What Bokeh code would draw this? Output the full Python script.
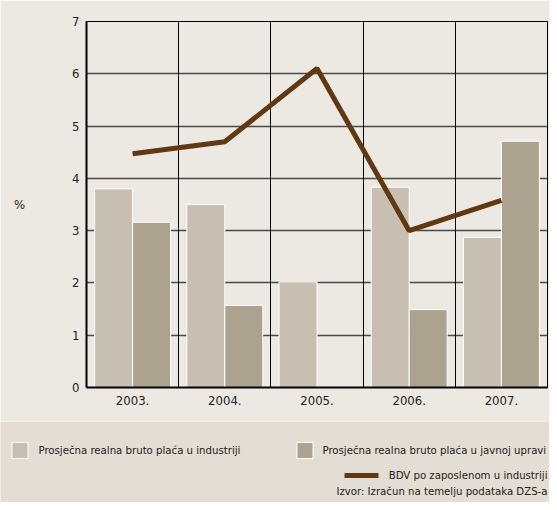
from bokeh.plotting import figure
from bokeh.layouts import column
from bokeh.models import Range1d, FixedTicker, Grid
from bokeh.core.properties import value
from bokeh.embed import file_html
from bokeh.resources import INLINE

# ---- data ----
years = ["2003.", "2004.", "2005.", "2006.", "2007."]
placa_industrija = [3.80, 3.50, 2.02, 3.83, 2.87]
placa_uprava = [3.16, 1.57, 0.0, 1.49, 4.71]
bdv_industrija = [4.47, 4.70, 6.10, 3.00, 3.58]
y_ticks = [0, 1, 2, 3, 4, 5, 6, 7]

series_names = [
    "Prosječna realna bruto plaća u industriji",
    "Prosječna realna bruto plaća u javnoj upravi",
    "BDV po zaposlenom u industriji",
]
source_note = "Izvor: Izračun na temelju podataka DZS-a"

# ---- styles ----
BG = "#ece8e2"
BAND = "#e3ddd4"
LIGHT = "#c8bfb3"
DARK = "#aca290"
LINE = "#603913"
TXT = "#222222"
FONT = "'DejaVu Sans Condensed', sans-serif"
FS_AX = "13px"
FS_LEG = "11.3px"

W = 549
xs = list(range(len(years)))
bw = 0.412

p = figure(width=W, height=421, output_backend="svg", toolbar_location=None,
           x_range=Range1d(-0.5, len(years) - 0.5), y_range=Range1d(0, 7),
           min_border_left=86, min_border_right=2, min_border_top=21, min_border_bottom=34)
p.frame_align = False
p.background_fill_color = BG
p.border_fill_color = BG
p.outline_line_color = "black"
p.outline_line_width = 1

# grids
p.xgrid.visible = False
p.ygrid.ticker = FixedTicker(ticks=y_ticks)
p.ygrid.grid_line_color = "#4a4a4a"
p.ygrid.grid_line_width = 1.5
vgrid = Grid(dimension=0, ticker=FixedTicker(ticks=[i + 0.5 for i in xs[:-1]]),
             grid_line_color="black", grid_line_width=1)
p.add_layout(vgrid)

# bars
p.vbar(x=[i - bw / 2 for i in xs], top=placa_industrija, width=bw,
       fill_color=LIGHT, line_color="white", line_width=1)
p.vbar(x=[i + bw / 2 for i in xs], top=placa_uprava, width=bw,
       fill_color=DARK, line_color="white", line_width=1)
# line
p.line(x=xs, y=bdv_industrija, line_color=LINE, line_width=5)

# axes
p.xaxis.ticker = FixedTicker(ticks=xs)
p.xaxis.major_label_overrides = {i: y for i, y in zip(xs, years)}
p.yaxis.ticker = FixedTicker(ticks=y_ticks)
for ax in (p.xaxis, p.yaxis):
    ax.axis_line_color = "black"
    ax.axis_line_width = 2
    ax.major_tick_out = 0
    ax.major_tick_in = 0
    ax.minor_tick_out = 0
    ax.minor_tick_in = 0
    ax.major_label_text_font = FONT
    ax.major_label_text_font_size = FS_AX
    ax.major_label_text_color = TXT
p.xaxis.major_label_standoff = 8
p.yaxis.major_label_standoff = 7
p.yaxis.axis_label = "%"
p.yaxis.axis_label_orientation = "horizontal"
p.yaxis.axis_label_text_font = FONT
p.yaxis.axis_label_text_font_style = "normal"
p.yaxis.axis_label_text_font_size = FS_AX
p.yaxis.axis_label_text_color = TXT
p.yaxis.axis_label_standoff = 44

# ---- legend band ----
H2 = 81
q = figure(width=W, height=H2, output_backend="svg", toolbar_location=None,
           x_range=Range1d(0, W), y_range=Range1d(H2, 0),
           min_border_left=0, min_border_right=0, min_border_top=0, min_border_bottom=0)
q.frame_align = False
q.axis.visible = False
q.grid.visible = False
q.outline_line_color = None
q.background_fill_color = BAND
q.border_fill_color = BAND

q.rect(x=[19.5, 304.5], y=[29, 29], width=16, height=16,
       fill_color=[LIGHT, DARK], line_color="white", line_width=1)
q.line(x=[344, 378], y=[54, 54], line_color=LINE, line_width=5)
q.text(x=[38, 322], y=[29, 29], text=series_names[:2], text_font=value(FONT),
       text_font_size=FS_LEG, text_baseline="middle", text_align="left", text_color=TXT)
q.text(x=[547, 547], y=[54, 70], text=[series_names[2], source_note], text_font=value(FONT),
       text_font_size=FS_LEG, text_baseline="middle", text_align="right", text_color=TXT)

layout = column(p, q, spacing=0)
open("out.html", "w").write(file_html(layout, INLINE))
